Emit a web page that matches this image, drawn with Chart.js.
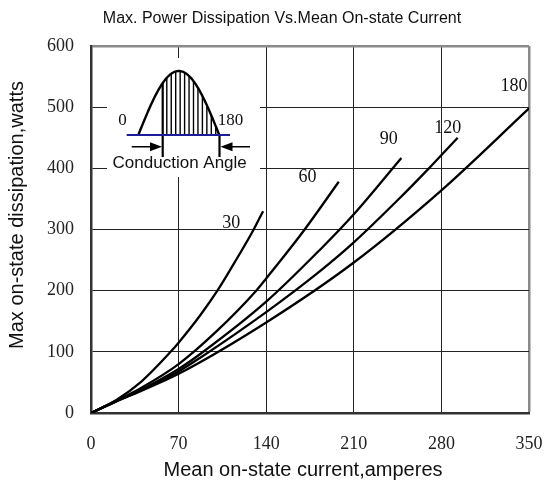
<!DOCTYPE html>
<html>
<head>
<meta charset="utf-8">
<script src="https://cdn.jsdelivr.net/npm/chart.js@4/dist/chart.umd.min.js"></script>
<style>
  body { margin: 0; background: #fff; }
  #wrap { width: 545px; height: 484px; }
</style>
</head>
<body>
<div id="wrap"><canvas id="chart" width="545" height="484"></canvas></div>
<script>
// values (amperes -> watts)
const current30 = [0, 20, 40, 63.6, 70, 87, 101, 115, 130, 137.5];
const power30 = [0, 21, 51, 100, 115, 159, 200, 247, 300, 330];

const current60 = [0, 20, 40, 70, 100, 132, 140, 170, 198];
const power60 = [0, 20, 41, 80, 133, 200, 220, 298, 378];

const current90 = [0, 20, 40, 70, 87, 140, 183, 210, 248];
const power90 = [0, 19, 38, 72, 96, 182, 267, 325, 417];

const current120 = [0, 20, 40, 70, 87, 140, 183, 210, 247, 270, 293];
const power120 = [0, 19, 37, 68, 90, 165, 232, 279, 352, 400, 450];

const current180 = [0, 20, 40, 70, 140, 210, 280, 350];
const power180 = [0, 19, 36, 64, 148, 246, 364, 498];

const angleLabels = ["30", "60", "90", "120", "180"];
// where each angle label sits, in data units
const labelX = [112, 173, 238, 285, 338];
const labelY = [311, 386, 448, 466, 534];

const xTicks = [0, 70, 140, 210, 280, 350];
const yTicks = [0, 100, 200, 300, 400, 500, 600];

const SANS = "'Liberation Sans', Arial, sans-serif";
const SERIF = "'Liberation Serif', 'Times New Roman', serif";

function toPoints(xs, ys) {
  return xs.map((x, i) => ({ x: x, y: ys[i] }));
}

const curves = [
  toPoints(current30, power30),
  toPoints(current60, power60),
  toPoints(current90, power90),
  toPoints(current120, power120),
  toPoints(current180, power180)
];

// inset sketch, curve labels and titles
const extras = {
  id: "extras",
  afterDraw(chart) {
    const c = chart.ctx;
    const xs = chart.scales.x;
    const ys = chart.scales.y;

    c.save();
    c.fillStyle = "#111";
    c.font = "18px " + SERIF;
    c.textAlign = "center";
    c.textBaseline = "middle";
    angleLabels.forEach((t, i) => {
      c.fillText(t, xs.getPixelForValue(labelX[i]), ys.getPixelForValue(labelY[i]));
    });

    // inset: half sine wave with conduction angle
    c.fillStyle = "#fff";
    c.fillRect(107, 58, 153, 119);

    const base = 135, x0 = 138.3, x1 = 219.3, amp = 64;
    const sineY = px => base - amp * Math.sin(Math.PI * (px - x0) / (x1 - x0));

    c.strokeStyle = "#000";
    c.lineWidth = 1.4;
    for (let px = 166.8; px < x1 - 2; px += 4.45) {
      c.beginPath();
      c.moveTo(px, base);
      c.lineTo(px, sineY(px));
      c.stroke();
    }

    c.lineWidth = 2.4;
    c.beginPath();
    for (let px = x0; px <= x1; px += 1) {
      if (px === x0) c.moveTo(px, sineY(px));
      else c.lineTo(px, sineY(px));
    }
    c.stroke();

    c.lineWidth = 2.2;
    c.beginPath();
    c.moveTo(162.7, sineY(162.7));
    c.lineTo(162.7, 157);
    c.moveTo(219.5, base);
    c.lineTo(219.5, 157);
    c.stroke();

    c.strokeStyle = "#1c1c9a";
    c.lineWidth = 2;
    c.beginPath();
    c.moveTo(126.7, base);
    c.lineTo(230, base);
    c.stroke();

    // arrows
    c.strokeStyle = "#000";
    c.fillStyle = "#000";
    c.lineWidth = 1.5;
    c.beginPath();
    c.moveTo(131.7, 146.7);
    c.lineTo(152, 146.7);
    c.moveTo(250, 146.7);
    c.lineTo(230, 146.7);
    c.stroke();
    c.beginPath();
    c.moveTo(162, 146.7);
    c.lineTo(150, 142.2);
    c.lineTo(150, 151.2);
    c.closePath();
    c.fill();
    c.beginPath();
    c.moveTo(220.5, 146.7);
    c.lineTo(232.5, 142.2);
    c.lineTo(232.5, 151.2);
    c.closePath();
    c.fill();

    c.fillStyle = "#111";
    c.font = "17px " + SERIF;
    c.textBaseline = "middle";
    c.fillText("0", 122.5, 121);
    c.fillText("180", 230.5, 121);

    c.font = "17px " + SANS;
    c.textBaseline = "alphabetic";
    c.fillText("Conduction Angle", 179.7, 168);

    // titles
    c.font = "16px " + SANS;
    c.textBaseline = "middle";
    c.fillText("Max. Power Dissipation Vs.Mean On-state Current", 282, 19);

    c.font = "20px " + SANS;
    c.fillText("Mean on-state current,amperes", 303, 470);

    c.translate(17, 215);
    c.rotate(-Math.PI / 2);
    c.fillText("Max on-state dissipation,watts", 0, 0);
    c.restore();
  }
};

new Chart(document.getElementById("chart"), {
  type: "line",
  data: {
    datasets: curves.map((pts, i) => ({
      label: angleLabels[i],
      data: pts,
      borderColor: "#000",
      borderWidth: 2.3,
      pointRadius: 0,
      fill: false,
      cubicInterpolationMode: "monotone"
    }))
  },
  options: {
    responsive: false,
    animation: false,
    layout: { padding: { top: 46, right: 16, bottom: 0, left: 0 } },
    plugins: {
      legend: { display: false },
      tooltip: { enabled: false }
    },
    scales: {
      x: {
        type: "linear",
        min: 0,
        max: 350,
        afterFit: s => {
          s.height = 71;
          s.paddingLeft = 0;
          s.paddingRight = 0;
        },
        afterBuildTicks: s => { s.ticks = xTicks.map(v => ({ value: v })); },
        ticks: {
          font: { family: SERIF, size: 18 },
          color: "#222",
          padding: 20
        },
        grid: {
          drawTicks: false,
          color: ctx => (ctx.tick && ctx.tick.value === 350 ? "#8a8a8a" : "#222"),
          lineWidth: ctx => (ctx.tick && ctx.tick.value === 350 ? 2.5 : 1)
        },
        border: { color: "#333", width: 2.5 }
      },
      y: {
        min: 0,
        max: 600,
        afterFit: s => {
          s.width = 91;
          s.paddingTop = 0;
          s.paddingBottom = 0;
        },
        afterBuildTicks: s => { s.ticks = yTicks.map(v => ({ value: v })); },
        ticks: {
          font: { family: SERIF, size: 18 },
          color: "#222",
          padding: 17
        },
        grid: {
          drawTicks: false,
          color: ctx => (ctx.tick && ctx.tick.value === 600 ? "#8a8a8a" : "#222"),
          lineWidth: ctx => (ctx.tick && ctx.tick.value === 600 ? 2.5 : 1)
        },
        border: { color: "#333", width: 2.5 }
      }
    }
  },
  plugins: [extras]
});
</script>
</body>
</html>
